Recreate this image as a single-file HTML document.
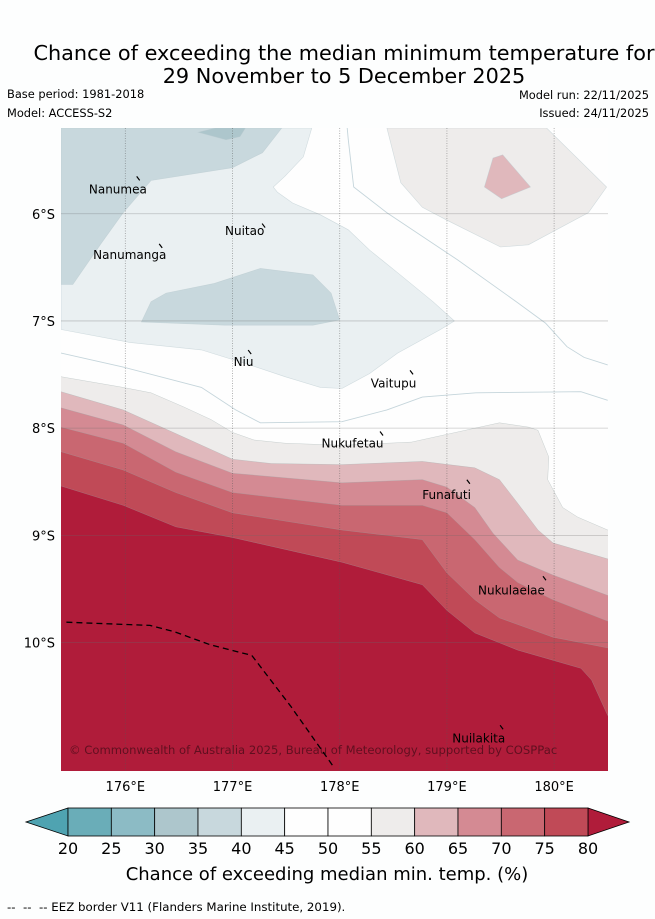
<!DOCTYPE html>
<html><head><meta charset="utf-8">
<style>
html,body{margin:0;padding:0;background:#fdfefe;}
svg{display:block;font-family:"DejaVu Sans","Liberation Sans",sans-serif;}
</style></head>
<body>
<svg id="chart" width="655" height="919" viewBox="0 0 655 919">
<text x="344" y="60" font-size="20.8" text-anchor="middle" fill="#000">Chance of exceeding the median minimum temperature for</text>
<text x="344" y="83" font-size="20.8" text-anchor="middle" fill="#000">29 November to 5 December 2025</text>
<text x="7" y="98" font-size="11.4" fill="#000">Base period: 1981-2018</text>
<text x="7" y="117" font-size="11.4" fill="#000">Model: ACCESS-S2</text>
<text x="649" y="99" font-size="11.4" text-anchor="end" fill="#000">Model run: 22/11/2025</text>
<text x="649" y="117" font-size="11.4" text-anchor="end" fill="#000">Issued: 24/11/2025</text>
<defs><clipPath id="mapclip"><rect x="61" y="128" width="547" height="643"/></clipPath></defs>
<g id="map" clip-path="url(#mapclip)"></g>
<g id="axes"></g>
<g id="cbar"></g>
<text x="327" y="880" font-size="18" text-anchor="middle" fill="#000">Chance of exceeding median min. temp. (%)</text>
<text x="7" y="911" font-size="11.8" fill="#000" xml:space="preserve">--  --  -- EEZ border V11 (Flanders Marine Institute, 2019).</text>
</svg>
<script>
// ---- data (lon/lat degrees) ----
const lonTicks = [176, 177, 178, 179, 180];
const latTicks = [6, 7, 8, 9, 10];
const cbarLevels = [20,25,30,35,40,45,50,55,60,65,70,75,80];
const cbarColors = ["#6aadb8","#8cbbc5","#adc6cc","#c8d8dd","#eaf0f2","#fefefe","#fefefe","#eeeceb","#e0b8bc","#d48a93","#c96771","#c04a57"];
const band55 = [[175.40,-7.52],[175.98,-7.62],[176.24,-7.67],[176.54,-7.80],[176.80,-7.92],[177.00,-8.04],[177.20,-8.11],[177.49,-8.14],[178.02,-8.16],[178.67,-8.13],[179.26,-8.00],[179.49,-7.95],[179.76,-7.99],[179.85,-8.02],[179.95,-8.27],[179.94,-8.48],[180.08,-8.74],[180.22,-8.83],[180.50,-8.95]];
const band60 = [[175.40,-7.66],[175.98,-7.83],[176.47,-8.05],[177.00,-8.29],[177.36,-8.33],[178.02,-8.34],[178.77,-8.31],[179.26,-8.37],[179.49,-8.48],[179.66,-8.70],[179.85,-8.95],[179.99,-9.07],[180.50,-9.22]];
const band65 = [[175.40,-7.81],[175.98,-7.97],[176.47,-8.22],[177.00,-8.42],[178.02,-8.51],[178.77,-8.48],[179.00,-8.55],[179.26,-8.74],[179.43,-8.98],[179.66,-9.23],[179.99,-9.37],[180.50,-9.56]];
const band70 = [[175.40,-7.99],[175.98,-8.14],[176.47,-8.41],[177.00,-8.60],[178.02,-8.72],[178.77,-8.72],[179.00,-8.79],[179.26,-9.04],[179.49,-9.30],[179.66,-9.44],[179.99,-9.60],[180.50,-9.80]];
const band75 = [[175.40,-8.22],[175.98,-8.39],[176.47,-8.60],[177.00,-8.79],[178.02,-8.95],[178.77,-9.04],[179.00,-9.35],[179.26,-9.60],[179.49,-9.77],[179.99,-9.95],[180.50,-10.05]];
const band80 = [[175.40,-8.54],[175.98,-8.72],[176.47,-8.92],[177.00,-9.02],[178.02,-9.25],[178.77,-9.46],[179.00,-9.70],[179.26,-9.91],[179.66,-10.07],[180.25,-10.24],[180.35,-10.35],[180.50,-10.68]];
const poly40 = [[175.40,-5.20],[177.74,-5.20],[177.66,-5.47],[177.49,-5.65],[177.38,-5.75],[177.42,-5.80],[177.56,-5.90],[177.82,-6.01],[178.08,-6.15],[178.28,-6.34],[178.54,-6.55],[178.87,-6.82],[179.07,-7.00],[178.94,-7.08],[178.54,-7.30],[178.28,-7.49],[178.02,-7.63],[177.82,-7.62],[177.49,-7.52],[177.16,-7.41],[176.71,-7.27],[176.04,-7.20],[175.40,-7.08]];
const poly35a = [[175.40,-5.20],[177.46,-5.20],[177.28,-5.43],[177.00,-5.57],[176.24,-5.69],[175.98,-5.99],[175.78,-6.27],[175.51,-6.66],[175.40,-6.66]];
const poly35b = [[176.15,-7.01],[176.24,-6.82],[176.38,-6.74],[176.83,-6.65],[177.26,-6.51],[177.75,-6.57],[177.92,-6.74],[178.00,-6.99],[177.75,-7.04],[176.93,-7.04]];
const poly30 = [[176.68,-5.24],[176.84,-5.20],[177.12,-5.20],[177.07,-5.28],[176.94,-5.31]];
const poly55ne = [[178.44,-5.20],[178.57,-5.71],[178.77,-5.94],[179.00,-6.06],[179.50,-6.31],[179.76,-6.29],[180.32,-5.99],[180.49,-5.75],[179.93,-5.20]];
const poly60ne = [[179.43,-5.48],[179.52,-5.45],[179.78,-5.75],[179.51,-5.86],[179.35,-5.75]];
const line50a = [[178.07,-5.20],[178.08,-5.31],[178.13,-5.75],[178.44,-5.99],[179.10,-6.43],[179.66,-6.83],[179.92,-7.02],[180.12,-7.24],[180.28,-7.34],[180.50,-7.41]];
const line50b = [[175.40,-7.30],[175.98,-7.43],[176.71,-7.62],[177.03,-7.83],[177.26,-7.95],[178.02,-7.94],[178.44,-7.83],[178.77,-7.71],[179.27,-7.67],[180.25,-7.66],[180.50,-7.74]];
const eezLine = [[175.45,-9.81],[176.23,-9.84],[176.46,-9.90],[176.79,-10.02],[177.18,-10.12],[177.54,-10.59],[177.95,-11.17]];
const placeNames = ["Nanumea","Nuitao","Nanumanga","Niu","Vaitupu","Nukufetau","Funafuti","Nukulaelae","Nuilakita"];
const placeLon = [175.66,176.93,175.70,177.01,178.29,177.83,178.77,179.29,179.05];
const placeLat = [-5.81,-6.20,-6.42,-7.42,-7.62,-8.18,-8.66,-9.55,-10.93];
const islandLon = [176.12,177.29,176.33,177.16,178.67,178.39,179.20,179.91,179.51];
const islandLat = [-5.67,-6.11,-6.30,-7.29,-7.48,-8.05,-8.50,-9.40,-10.79];

// ---- axis functions ----
const X0=61, Y0=128, PX=107.2;
const xs = lon => X0 + (lon-175.4)*PX;
const ys = lat => Y0 + (-5.2-lat)*PX;
const NS="http://www.w3.org/2000/svg";
function mk(tag, attrs, parent){const e=document.createElementNS(NS,tag);for(const k in attrs)e.setAttribute(k,attrs[k]);parent.appendChild(e);return e;}
const ptsStr = arr => arr.map(p=>xs(p[0]).toFixed(1)+","+ys(p[1]).toFixed(1)).join(" ");
const map=document.getElementById("map");

let bg=mk("rect",{x:61,y:128,width:547,height:643,fill:"#fefefe"},map);



function polyClosed(arr, fill, name){
  const p=mk("polygon",{points:ptsStr(arr),fill:fill,stroke:"#b9c9cf","stroke-width":0.6,"stroke-opacity":0.6},map);
  
  
}
function bandDown(arr, fill, name){
  const pts=ptsStr(arr)+" "+xs(180.6).toFixed(1)+","+ys(arr[arr.length-1][1]).toFixed(1)+" "+xs(180.6)+","+ys(-11.5)+" "+xs(175.3)+","+ys(-11.5)+" "+xs(175.3)+","+ys(arr[0][1]).toFixed(1);
  const p=mk("polygon",{points:pts,fill:fill,stroke:"#9aa",'stroke-width':0.5,'stroke-opacity':0.5},map);
  
  
}
polyClosed(poly40,"#eaf0f2","region-40-45");
polyClosed(poly35a,"#c8d8dd","region-35-40-northwest");
polyClosed(poly35b,"#c8d8dd","region-35-40-central");
polyClosed(poly30,"#adc6cc","region-30-35");
polyClosed(poly55ne,"#eeeceb","region-55-60-northeast");
polyClosed(poly60ne,"#e0b8bc","region-60-65-northeast");
function contourLine(arr,name){
  const l=mk("polyline",{points:ptsStr(arr),fill:"none",stroke:"#c5d5db","stroke-width":0.9},map);
  
  
}
contourLine(line50a,"contour-50-east");
contourLine(line50b,"contour-50-south");
bandDown(band55,"#eeeceb","band-55-60");
bandDown(band60,"#e0b8bc","band-60-65");
bandDown(band65,"#d48a93","band-65-70");
bandDown(band70,"#c96771","band-70-75");
bandDown(band75,"#c04a57","band-75-80");
bandDown(band80,"#b01c3a","band-above-80");

lonTicks.forEach(v=>{
  const g=mk("line",{x1:xs(v),x2:xs(v),y1:128,y2:771,stroke:"#555","stroke-width":0.8,"stroke-dasharray":"1,1.5","stroke-opacity":0.55},map);
  
  
});
latTicks.forEach(v=>{
  const g=mk("line",{x1:61,x2:608,y1:ys(-v),y2:ys(-v),stroke:"#666","stroke-width":0.8,"stroke-opacity":0.35},map);
  
  
});
const eez=mk("polyline",{points:ptsStr(eezLine),fill:"none",stroke:"#000","stroke-width":1.3,"stroke-dasharray":"6,4"},map);


islandLon.forEach((lo,i)=>{
  const m=mk("line",{x1:xs(lo)-1.5,y1:ys(islandLat[i])-2,x2:xs(lo)+1.5,y2:ys(islandLat[i])+2,stroke:"#000","stroke-width":1.2},map);
  
  
});
placeNames.forEach((n,i)=>{
  const t=mk("text",{x:xs(placeLon[i]),y:ys(placeLat[i]),"font-size":12,fill:"#000"},map);
  t.textContent=n;
  
  
});
const cp=mk("text",{x:69,y:754,"font-size":11.6,fill:"#000","fill-opacity":0.45},map);
cp.textContent="© Commonwealth of Australia 2025, Bureau of Meteorology, supported by COSPPac";



const axes=document.getElementById("axes");
lonTicks.forEach(v=>{
  const t=mk("text",{x:xs(v),y:791,"font-size":13,"text-anchor":"middle",fill:"#000"},axes);
  t.textContent=v+"°E";
  
  
});
latTicks.forEach(v=>{
  const t=mk("text",{x:55,y:ys(-v)+5,"font-size":13,"text-anchor":"end",fill:"#000"},axes);
  t.textContent=v+"°S";
  
  
});

const cb=document.getElementById("cbar");
const CB0=68, CB1=588, CBY=808, CBH=28;
const cx = v => CB0 + (v-20)/(80-20)*(CB1-CB0);
const lt=mk("polygon",{points:`${CB0},${CBY} 26,${CBY+CBH/2} ${CB0},${CBY+CBH}`,fill:"#4fa3b1",stroke:"#000","stroke-width":0.8},cb);


const rt=mk("polygon",{points:`${CB1},${CBY} 629,${CBY+CBH/2} ${CB1},${CBY+CBH}`,fill:"#b01c3a",stroke:"#000","stroke-width":0.8},cb);


cbarColors.forEach((c,i)=>{
  const r=mk("rect",{x:cx(cbarLevels[i]),y:CBY,width:cx(cbarLevels[i+1])-cx(cbarLevels[i]),height:CBH,fill:c,stroke:"#000","stroke-width":0.8},cb);
  
  
});
cbarLevels.forEach(v=>{
  const t=mk("text",{x:cx(v),y:854,"font-size":16,"text-anchor":"middle",fill:"#000"},cb);
  t.textContent=v;
  
  
});
</script>
</body></html>
